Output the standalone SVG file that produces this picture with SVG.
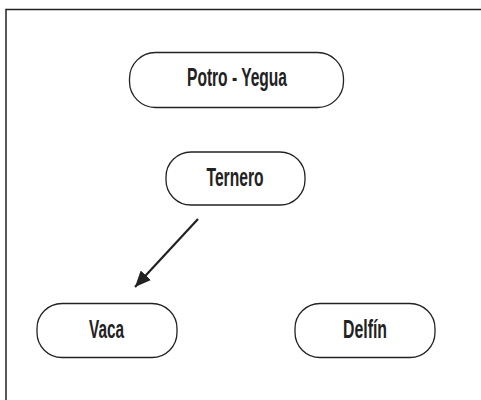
<svg xmlns="http://www.w3.org/2000/svg" width="481" height="400" viewBox="0 0 481 400">
<defs>
<style>
.node rect{fill:#fff;stroke:#222;stroke-width:1.3}
.node text{font-family:"Liberation Sans",Arial,sans-serif;font-size:26px;font-weight:bold;fill:#222;text-anchor:middle}
.conn line{stroke:#222;stroke-width:2.2}
.frame{fill:none;stroke:#222;stroke-width:1.5}
</style>
<marker id="ah" markerWidth="16" markerHeight="14" refX="16" refY="7" orient="auto" markerUnits="userSpaceOnUse" viewBox="0 0 16 14">
<path d="M0,0 L16,7 L0,14 Z" fill="#222"/>
</marker>
</defs>
<rect width="481" height="400" fill="#fff"/>
<path class="frame" d="M6,400 L6,9.5 L481,9.5"/>
<g id="potro-yegua" class="node">
<rect x="129.5" y="52.5" width="214" height="55" rx="26"/>
<text x="237" y="86" textLength="100" lengthAdjust="spacingAndGlyphs">Potro - Yegua</text>
</g>
<g id="ternero" class="node">
<rect x="166" y="152" width="139" height="53" rx="25"/>
<text x="235" y="186" textLength="57" lengthAdjust="spacingAndGlyphs">Ternero</text>
</g>
<g id="vaca" class="node">
<rect x="37" y="303.5" width="140" height="54" rx="25"/>
<text x="106.5" y="338" textLength="35" lengthAdjust="spacingAndGlyphs">Vaca</text>
</g>
<g id="delfin" class="node">
<rect x="295" y="303.5" width="140" height="54" rx="25"/>
<text x="365" y="338" textLength="44" lengthAdjust="spacingAndGlyphs">Delfín</text>
</g>
<g id="connectors" class="conn">
<line x1="198" y1="219" x2="135" y2="287" marker-end="url(#ah)"/>
</g>
</svg>
